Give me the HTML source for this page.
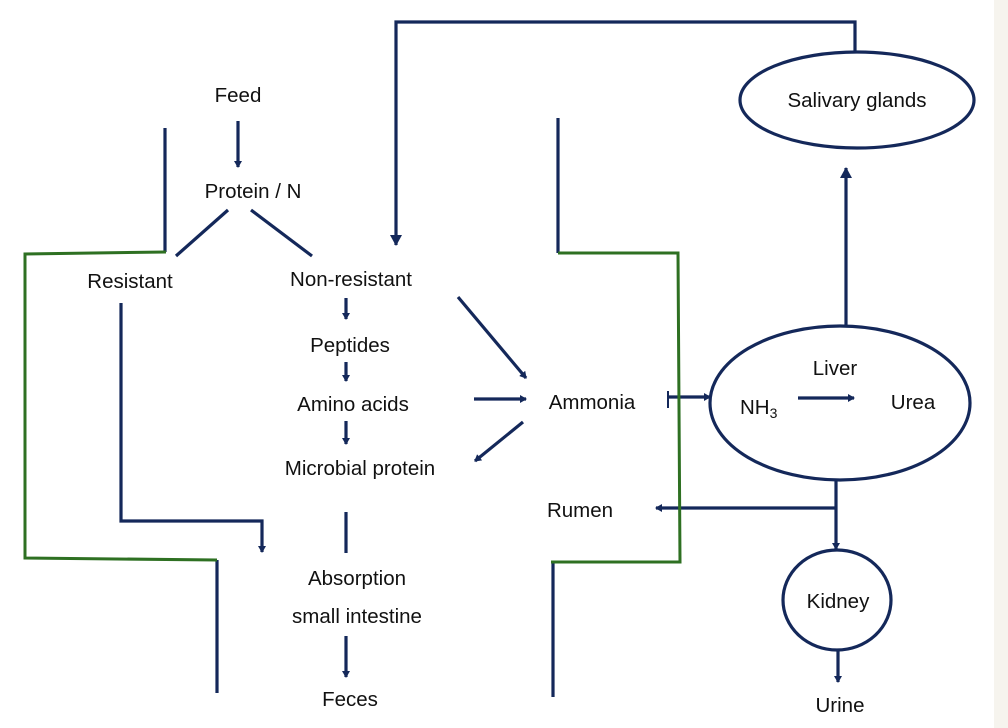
<!DOCTYPE html>
<html><head><meta charset="utf-8"><style>
html,body{margin:0;padding:0;background:#fff;}
svg{display:block;}
text{font-family:"Liberation Sans",sans-serif;font-size:20.5px;fill:#111;}
</style></head><body>
<svg width="1008" height="728" viewBox="0 0 1008 728" xmlns="http://www.w3.org/2000/svg">
<defs>
<marker id="a" markerWidth="8" markerHeight="8" refX="6" refY="4" orient="auto" markerUnits="userSpaceOnUse">
<path d="M0,0 L7,4 L0,8 z" fill="#14285a"/></marker>
<marker id="b" markerWidth="12" markerHeight="12" refX="10" refY="6" orient="auto" markerUnits="userSpaceOnUse">
<path d="M0,0 L11,6 L0,12 z" fill="#14285a"/></marker>
</defs>
<rect x="994" y="0" width="14" height="728" fill="#f6f4ee"/>
<g fill="none" stroke="#14285a" stroke-width="3.2">
<polyline points="855,52 855,22 396,22 396,245" marker-end="url(#b)"/>
<ellipse cx="857" cy="100" rx="117" ry="48"/>
<line x1="846" y1="325" x2="846" y2="168" marker-end="url(#b)"/>
<ellipse cx="840" cy="403" rx="130" ry="77"/>
<line x1="165" y1="128" x2="165" y2="252"/>
<line x1="217" y1="560" x2="217" y2="693"/>
<line x1="558" y1="118" x2="558" y2="253"/>
<line x1="553" y1="562" x2="553" y2="697"/>
<line x1="238" y1="121" x2="238" y2="167" marker-end="url(#a)"/>
<line x1="228" y1="210" x2="176" y2="256"/>
<line x1="251" y1="210" x2="312" y2="256"/>
<polyline points="121,303 121,521 262,521 262,552" marker-end="url(#a)"/>
<line x1="346" y1="298" x2="346" y2="319" marker-end="url(#a)"/>
<line x1="346" y1="362" x2="346" y2="381" marker-end="url(#a)"/>
<line x1="346" y1="421" x2="346" y2="444" marker-end="url(#a)"/>
<line x1="346" y1="512" x2="346" y2="553"/>
<line x1="346" y1="636" x2="346" y2="677" marker-end="url(#a)"/>
<line x1="458" y1="297" x2="526" y2="378" marker-end="url(#a)"/>
<line x1="474" y1="399" x2="526" y2="399" marker-end="url(#a)"/>
<line x1="523" y1="422" x2="475" y2="461" marker-end="url(#a)"/>
<line x1="668" y1="397" x2="710" y2="397" marker-end="url(#a)"/>
<line x1="668" y1="391" x2="668" y2="408" stroke-width="2"/>
<line x1="798" y1="398" x2="854" y2="398" marker-end="url(#a)"/>
<line x1="836" y1="480" x2="836" y2="508"/>
<line x1="836" y1="508" x2="656" y2="508" marker-end="url(#a)"/>
<line x1="836" y1="508" x2="836" y2="549" marker-end="url(#a)"/>
<ellipse cx="837" cy="600" rx="54" ry="50"/>
<line x1="838" y1="650" x2="838" y2="682" marker-end="url(#a)"/>
</g>
<g fill="none" stroke="#2e7022" stroke-width="3">
<polyline points="166,252 25,254 25,558 217,560"/>
<polyline points="558,253 678,253 680,562 551,562"/>
</g>
<text x="238" y="102" text-anchor="middle">Feed</text>
<text x="253" y="198" text-anchor="middle">Protein / N</text>
<text x="130" y="288" text-anchor="middle">Resistant</text>
<text x="351" y="286" text-anchor="middle">Non-resistant</text>
<text x="350" y="352" text-anchor="middle">Peptides</text>
<text x="353" y="411" text-anchor="middle">Amino acids</text>
<text x="360" y="475" text-anchor="middle">Microbial protein</text>
<text x="357" y="585" text-anchor="middle">Absorption</text>
<text x="357" y="623" text-anchor="middle">small intestine</text>
<text x="350" y="706" text-anchor="middle">Feces</text>
<text x="592" y="409" text-anchor="middle">Ammonia</text>
<text x="580" y="517" text-anchor="middle">Rumen</text>
<text x="857" y="107" text-anchor="middle">Salivary glands</text>
<text x="835" y="375" text-anchor="middle">Liver</text>
<text x="740" y="414">NH<tspan font-size="14" dy="4">3</tspan></text>
<text x="913" y="409" text-anchor="middle">Urea</text>
<text x="838" y="608" text-anchor="middle">Kidney</text>
<text x="840" y="712" text-anchor="middle">Urine</text>
</svg>
</body></html>
